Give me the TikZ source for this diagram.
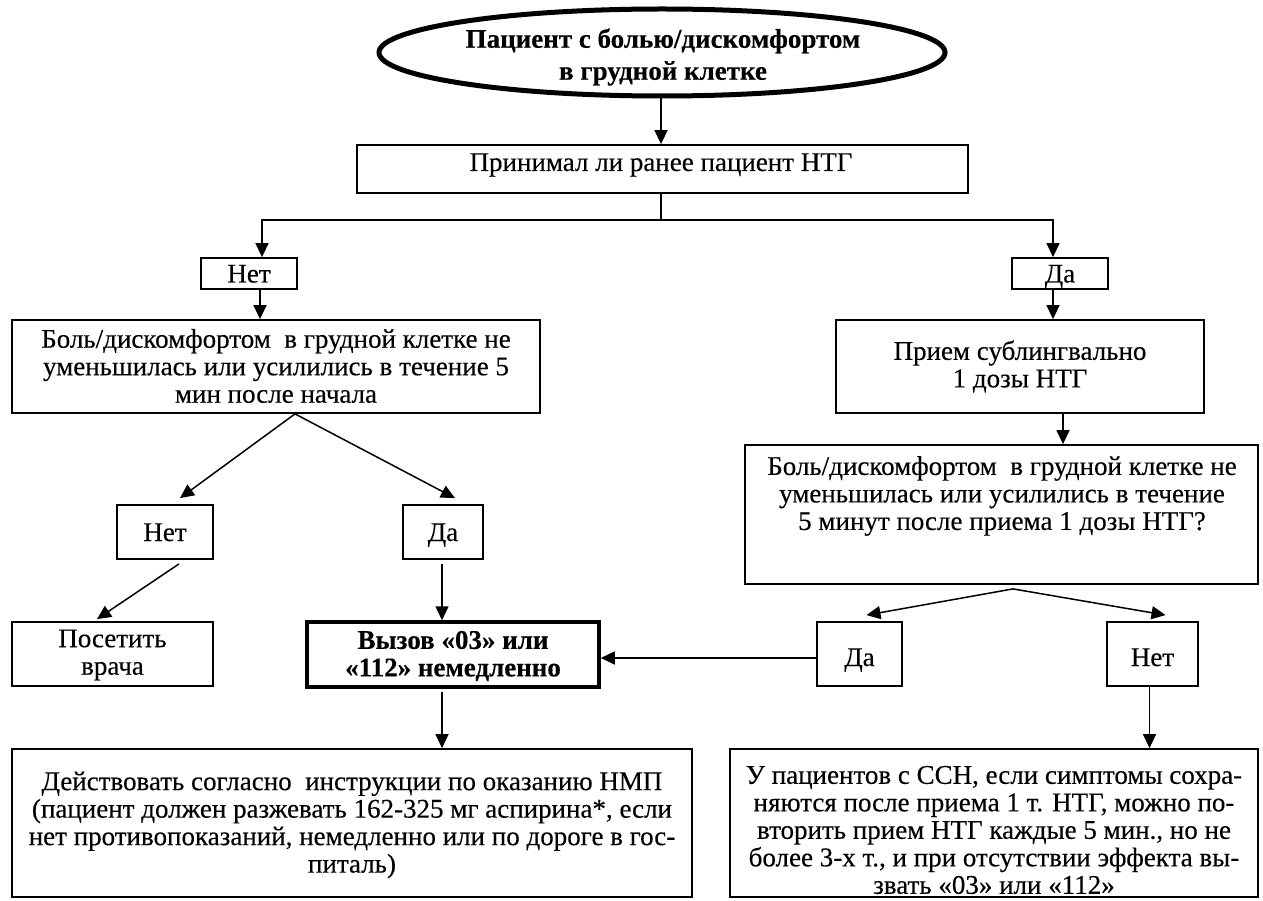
\documentclass[tikz,border=0pt]{standalone}
\usepackage{fontspec}
\setmainfont{Liberation Serif}[FakeBold=0.3]
\usetikzlibrary{arrows.meta,shapes.geometric,calc}
\newcommand\bodyfs{\fontsize{27pt}{27.5pt}\selectfont}
\begin{document}
\begin{tikzpicture}[x=1pt,y=-1pt,
  boxn/.style={draw, line width=1.8pt, inner sep=0pt},
  thickbox/.style={draw, line width=3.5pt, inner sep=0pt},
  txt/.style={align=center, inner sep=0pt, font=\bodyfs},
  lbl/.style={inner sep=0pt, font=\bodyfs, text height=18pt, text depth=0pt},
  btxt/.style={align=center, inner sep=0pt, font=\bodyfs\bfseries},
  arr/.style={line width=1.5pt, -{Triangle[length=14pt,width=13pt]}},
  plain/.style={line width=1.5pt}]
\useasboundingbox (0,0) rectangle (1263,901);

% start ellipse
\node[draw, ellipse, line width=5pt, minimum width=566pt, minimum height=87pt, inner sep=0pt] (el) at (662,52.5) {};
\node[btxt, font=\fontsize{27pt}{32pt}\selectfont\bfseries] (elt) at (663,57) {Пациент с болью/дискомфортом\\в грудной клетке};

% boxes
\node[boxn, minimum width=611pt, minimum height=48pt] (b1) at (662.5,169) {};
\node[txt] (b1t) at (661,165) {Принимал ли ранее пациент НТГ};

\node[boxn, minimum width=96pt, minimum height=31pt] (n1) at (249,273.5) {};
\node[lbl] (n1t) at (249,273.5) {Нет};
\node[boxn, minimum width=96pt, minimum height=31pt] (d1) at (1060,273.5) {};
\node[lbl] (d1t) at (1060,273.5) {Да};

\node[boxn, minimum width=528pt, minimum height=93pt] (lb) at (276,366.5) {};
\node[txt] (lbt) at (276,366) {Боль/дискомфортом\ \ в грудной клетке не\\уменьшилась или усилились в течение 5\\мин после начала};

\node[boxn, minimum width=368pt, minimum height=93pt] (pr) at (1020,366.5) {};
\node[txt] (prt) at (1020,366.5) {Прием сублингвально\\1 дозы НТГ};

\node[boxn, minimum width=513pt, minimum height=139pt] (rb) at (1001.5,514.5) {};
\node[txt] (rbt) at (1002,496) {Боль/дискомфортом\ \ в грудной клетке не\\уменьшилась или усилились в течение\\5 минут после приема 1 дозы НТГ?};

\node[boxn, minimum width=96pt, minimum height=54pt] (n2) at (165,532) {};
\node[lbl] (n2t) at (165,532) {Нет};
\node[boxn, minimum width=80pt, minimum height=54pt] (d2) at (443,532) {};
\node[lbl] (d2t) at (443,532) {Да};

\node[boxn, minimum width=201pt, minimum height=64pt] (pv) at (112.5,654) {};
\node[txt] (pvt) at (112.5,655) {Посетить\\врача};

\node[thickbox, minimum width=292pt, minimum height=65pt] (cl) at (453,654.5) {};
\node[btxt] (clt) at (453,656) {Вызов «03» или\\«112» немедленно};

\node[boxn, minimum width=85pt, minimum height=64pt] (d3) at (859.5,654) {};
\node[lbl] (d3t) at (859.5,657) {Да};
\node[boxn, minimum width=91pt, minimum height=64pt] (n3) at (1152.5,654) {};
\node[lbl] (n3t) at (1152.5,657) {Нет};

\node[boxn, minimum width=680pt, minimum height=148pt] (bl) at (352,823) {};
\node[txt] (blt) at (352,825) {Действовать согласно\ \ инструкции по оказанию НМП\\(пациент должен разжевать 162-325 мг аспирина*, если\\нет противопоказаний, немедленно или по дороге в гос-\\питаль)};

\node[boxn, minimum width=528pt, minimum height=148pt] (br) at (994,823) {};
\node[txt] (brt) at (994,830) {У пациентов с ССН, если симптомы сохра-\\няются после приема 1 т. НТГ, можно по-\\вторить прием НТГ каждые 5 мин., но не\\более 3-х т., и при отсутствии эффекта вы-\\звать «03» или «112»};

% connectors
\draw[arr] (el.south -| 661,0) -- (b1.north -| 661,0);
\coordinate (split) at (661,220);
\draw[plain] (b1.south -| split) -- (split);
\draw[arr] (split) -| ($(n1.north)+(13,0)$);
\draw[arr] (split) -| ($(d1.north)+(-7,0)$);
\draw[arr] ($(n1.south)+(11,0)$) coordinate (t1) -- (t1 |- lb.north);
\draw[arr] ($(d1.south)+(-7,0)$) coordinate (t2) -- (t2 |- pr.north);
\draw[arr] ($(pr.south)+(43,0)$) coordinate (t3) -- (t3 |- rb.north);

\draw[arr] ($(lb.south)+(19,0)$) -- ($(n2.north)+(15,-6)$);
\draw[arr] ($(lb.south)+(19,0)$) -- ($(d2.north)+(12,-6)$);
\draw[arr] ($(n2.south)+(14,4)$) -- ($(pv.north)+(-15.5,-2)$);
\draw[arr] ($(d2.south)+(-1,4)$) coordinate (t4) -- (t4 |- cl.north);
\draw[arr] ($(cl.south)+(-11,3)$) coordinate (t5) -- (t5 |- bl.north);

\draw[arr] ($(rb.south)+(11.5,4)$) -- ($(d3.north)+(7,-6)$);
\draw[arr] ($(rb.south)+(11.5,4)$) -- ($(n3.north)+(13,-6)$);
\draw[arr] ($(d3.west)+(0,4)$) coordinate (t6) -- (t6 -| cl.east);
\draw[arr] ($(n3.south)+(-3,0)$) coordinate (t7) -- (t7 |- br.north);
\end{tikzpicture}
\end{document}
